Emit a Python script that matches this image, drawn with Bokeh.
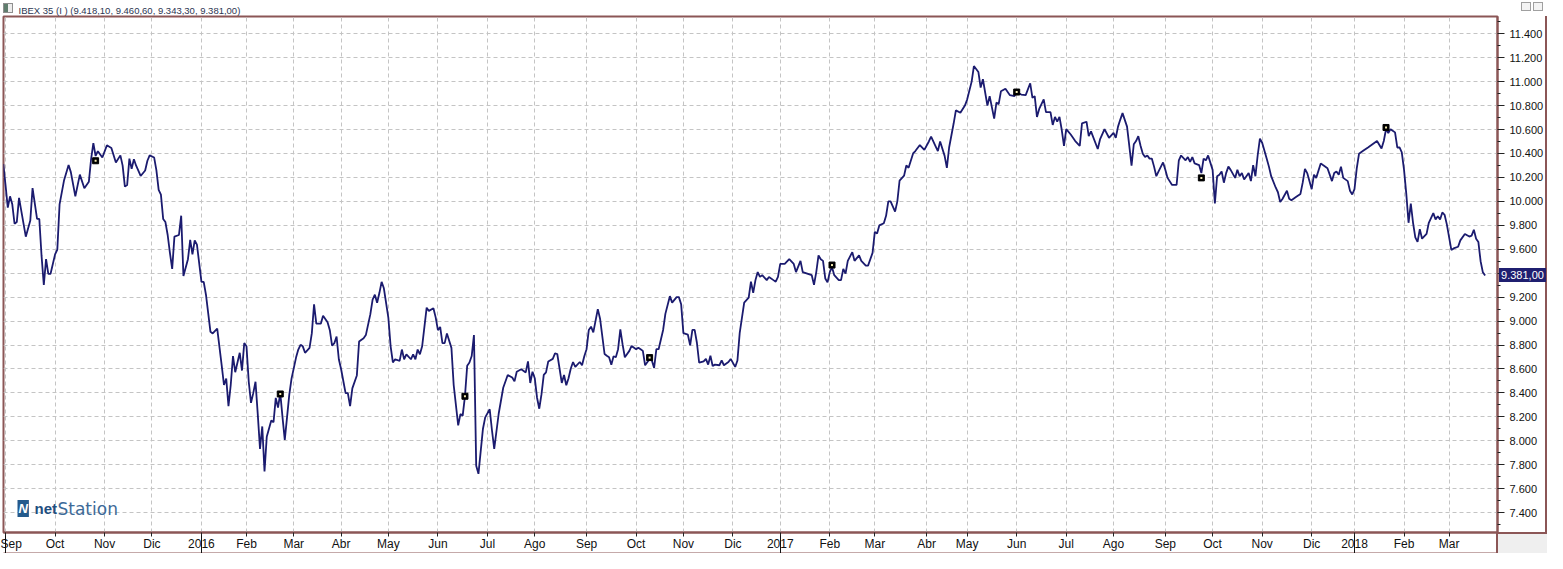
import pandas as pd
from bokeh.plotting import figure
from bokeh.layouts import column
from bokeh.models import FixedTicker, Range1d, Label, LinearAxis, ColumnDataSource, Div
from bokeh.embed import file_html
from bokeh.resources import INLINE

# ---------------- data ----------------
title_text = "IBEX 35 (I ) (9.418,10, 9.460,60, 9.343,30, 9.381,00)"
last_label = "9.381,00"
last_close = 9381

# trading-session number counted from 1 Sep 2015 (session 0)
session = [
    -1, 0, 1, 2, 3, 4, 5, 6, 7, 9, 11, 12, 14, 15, 16, 17, 18, 19, 20, 22, 23, 24, 26, 28, 29, 31, 33, 35, 37, 38, 39,
    40, 41, 43, 45, 47, 49, 51, 52, 53, 54, 55, 56, 57, 58, 60, 62, 63, 64, 66, 67, 68, 69, 70, 71, 72, 73, 74, 75,
    77, 78, 79, 81, 82, 83, 84, 85, 87, 88, 89, 91, 92, 94, 96, 97, 98, 99, 100, 101, 102, 104, 105, 106, 107, 108,
    109, 110, 111, 112, 113, 114, 115, 116, 118, 119, 120, 121, 122, 123, 124, 125, 126, 127, 129, 130, 131, 132,
    133, 135, 136, 137, 138, 140, 141, 143, 144, 145, 146, 147, 148, 149, 151, 152, 153, 154, 156, 157, 159, 160,
    162, 163, 164, 165, 166, 167, 168, 170, 171, 172, 173, 175, 176, 177, 178, 180, 181, 182, 183, 184, 185, 187,
    188, 190, 191, 192, 193, 194, 195, 196, 198, 199, 201, 202, 203, 204, 205, 206, 207, 208, 209, 210, 212, 213,
    215, 216, 217, 219, 221, 223, 225, 226, 227, 229, 231, 232, 233, 234, 235, 236, 237, 238, 239, 240, 241, 243,
    244, 245, 246, 247, 248, 249, 250, 251, 252, 253, 255, 256, 257, 258, 259, 260, 261, 263, 264, 266, 267, 268,
    269, 270, 271, 272, 273, 274, 275, 277, 278, 280, 281, 282, 283, 284, 286, 287, 288, 289, 290, 292, 293, 295,
    296, 298, 299, 300, 301, 303, 304, 305, 306, 307, 308, 310, 311, 312, 313, 314, 315, 317, 318, 319, 321, 322,
    324, 325, 326, 328, 330, 331, 332, 333, 334, 335, 336, 338, 339, 341, 342, 343, 344, 346, 348, 350, 351, 353,
    354, 356, 358, 359, 360, 361, 362, 363, 364, 365, 366, 367, 368, 370, 371, 372, 373, 374, 376, 377, 379, 380,
    382, 383, 385, 386, 387, 388, 390, 391, 392, 393, 395, 396, 397, 399, 400, 401, 403, 404, 406, 408, 410, 411,
    413, 414, 415, 417, 418, 419, 421, 422, 424, 426, 427, 429, 430, 432, 433, 434, 436, 437, 439, 440, 441, 442,
    444, 446, 448, 449, 451, 453, 455, 456, 457, 458, 459, 461, 462, 464, 465, 466, 467, 468, 469, 470, 471, 473,
    475, 477, 478, 480, 481, 482, 485, 486, 488, 490, 492, 493, 494, 495, 496, 498, 499, 500, 501, 502, 503, 504,
    505, 506, 507, 508, 509, 510, 511, 512, 514, 515, 516, 518, 520, 521, 522, 524, 525, 526, 527, 528, 530, 531,
    532, 533, 534, 536, 537, 538, 539, 540, 541, 542, 543, 544, 546, 547, 548, 549, 550, 552, 553, 554, 555, 556,
    557, 558, 560, 561, 562, 564, 565, 566, 567, 569, 570, 571, 573, 575, 576, 577, 578, 580, 581, 582, 584, 585,
    587, 588, 589, 590, 591, 592, 593, 594, 596, 597, 598, 599, 600, 601, 603, 605, 607, 609, 611, 612, 613, 614,
    615, 617, 618, 619, 620, 621, 622, 623, 624, 625, 626, 627, 628, 629, 631, 632, 634, 635, 636, 637, 638, 639,
    640, 642, 643, 645, 646, 648, 650, 651, 652, 653, 654, 655, 656, 657,
]
close = [
    10312, 10136, 9948, 10042, 9975, 9813, 9827, 10029, 9921, 9705, 9840, 10110, 9853, 9853, 9544, 9301, 9517, 9395,
    9395, 9557, 9597, 9975, 10177, 10304, 10244, 10042, 10223, 10110, 10164, 10352, 10487,
    10379, 10419, 10366, 10468, 10446, 10325, 10384, 10298, 10123, 10136, 10357, 10271, 10352, 10298, 10212, 10258,
    10339, 10384, 10366, 10258, 10096, 10056, 9853, 9827, 9719, 9570, 9436, 9705,
    9719, 9880, 9376, 9517, 9678, 9557, 9673, 9638, 9328, 9328, 9220, 8910, 8897, 8937, 8627, 8466, 8519, 8290, 8466,
    8708, 8573, 8735, 8587, 8816, 8789, 8493,
    8317, 8398, 8493, 8223, 7932, 8120, 7743, 8034, 8169, 8155, 8358, 8277, 8398, 8196, 8007, 8196, 8385, 8519, 8695,
    8762, 8802, 8789,
    8735, 8776, 8897, 9139, 8978, 8978, 9045, 8991, 8924, 8794, 8815, 8870, 8681, 8600, 8398, 8398, 8290, 8438, 8546,
    8829, 8856, 8883,
    9058, 9180, 9220, 9153, 9234, 9328, 9274, 9026, 8789, 8654, 8681, 8668, 8762, 8681, 8722, 8681, 8722, 8681, 8762,
    8722, 8789, 9112,
    9085, 9107, 9031, 8924, 8951, 8816, 8816, 8897, 8776, 8466, 8129, 8223, 8210, 8371, 8627, 8654, 8708, 8883, 7792,
    7724, 8101, 8196,
    8263, 8088, 7932, 8228, 8443, 8550, 8529, 8496, 8577, 8598, 8571, 8663, 8483, 8577, 8523, 8362, 8268, 8389, 8550,
    8571, 8663, 8684,
    8730, 8725, 8604, 8483, 8550, 8464, 8523, 8604, 8658, 8617, 8658, 8631, 8706, 8765, 8926, 8953, 8905, 9100, 9020,
    8725, 8711, 8698,
    8636, 8706, 8698, 8765, 8931, 8805, 8698, 8751, 8792, 8765, 8778, 8765, 8751, 8631, 8684, 8671, 8609, 8765, 8765,
    8926, 9060, 9208,
    9154, 9200, 9200, 9141, 8899, 8886, 8797, 8926, 8926, 8819, 8652, 8663, 8684, 8636, 8711, 8625, 8636, 8631, 8671,
    8631, 8658, 8684,
    8617, 8671, 8899, 9154, 9195, 9329, 9235, 9342, 9409, 9369, 9383, 9342, 9369, 9342, 9329, 9369, 9477, 9477, 9517,
    9477, 9409, 9503,
    9409, 9396, 9383, 9302, 9409, 9549, 9517, 9503, 9356, 9323, 9409, 9450, 9383, 9342, 9342, 9436, 9396, 9503, 9576,
    9503, 9549, 9503,
    9463, 9463, 9570, 9745, 9732, 9799, 9817, 9879, 10000, 10000, 9914, 10000, 10174, 10215, 10300, 10280, 10400,
    10420, 10470, 10430, 10500, 10540,
    10460, 10420, 10500, 10380, 10280, 10450, 10650, 10760, 10740, 10800, 10850, 11000, 11130, 11080, 10950, 11020,
    10800, 10879, 10691, 10825, 10812, 10919,
    10940, 10887, 10879, 10914, 10892, 10887, 10986, 10865, 10879, 10705, 10772, 10852, 10745, 10745, 10638, 10705,
    10665, 10705, 10598, 10464, 10603, 10558,
    10504, 10464, 10651, 10665, 10544, 10584, 10437, 10517, 10603, 10531, 10571, 10531, 10624, 10683, 10737, 10624,
    10464, 10298, 10477, 10504, 10544, 10464,
    10397, 10370, 10383, 10357, 10357, 10290, 10210, 10250, 10325, 10263, 10196, 10137, 10137, 10343, 10383, 10343,
    10370, 10330, 10370, 10317, 10303, 10236,
    10357, 10343, 10383, 10263, 9982, 10210, 10223, 10250, 10156, 10236, 10290, 10263, 10196, 10263, 10210, 10236,
    10183, 10236, 10169, 10303, 10210, 10383,
    10523, 10490, 10357, 10290, 10210, 10116, 10076, 9995, 10020, 10089, 10022, 10009, 10036, 10062, 10156, 10271,
    10236, 10102, 10223, 10196, 10317, 10303,
    10276, 10223, 10169, 10236, 10250, 10223, 10290, 10196, 10169, 10089, 10057, 10102, 10276, 10397, 10424, 10450,
    10477, 10504, 10442, 10504, 10603, 10571,
    10603, 10576, 10450, 10450, 10410, 10263, 10062, 9821, 9982, 9821, 9700, 9661, 9768, 9688, 9728, 9821, 9902, 9848,
    9875, 9848, 9907, 9888,
    9808, 9594, 9607, 9621, 9674, 9728, 9706, 9714, 9762, 9688, 9661, 9500, 9407, 9381,
]
event_session = [40, 122, 204, 286, 367, 449, 531, 613]
event_close = [10339, 8391, 8372, 8695, 9468, 10913, 10196, 10617]

month_labels = ["Sep", "Oct", "Nov", "Dic", "2016", "Feb", "Mar", "Abr", "May", "Jun", "Jul", "Ago",
                "Sep", "Oct", "Nov", "Dic", "2017", "Feb", "Mar", "Abr", "May", "Jun", "Jul", "Ago",
                "Sep", "Oct", "Nov", "Dic", "2018", "Feb", "Mar"]
price_ticks = list(range(7400, 11401, 200))
price_minor = list(range(7300, 11501, 200))
holidays = ["2015-12-25", "2016-01-01", "2016-03-25", "2016-03-28", "2016-12-26", "2017-04-14",
            "2017-04-17", "2017-05-01", "2017-12-25", "2017-12-26", "2018-01-01", "2018-03-30"]

# ---------------- calendar -> month ticks ----------------
cal = pd.bdate_range("2015-09-01", "2018-03-31", freq="C", holidays=holidays)
per = cal.to_period("M")
month_ticks = [i for i in range(len(cal)) if i == 0 or per[i] != per[i - 1]]
year_ticks = [t for t, lab in zip(month_ticks, month_labels) if lab.isdigit()]

# ---------------- layout ----------------
W, H = 1547, 553
ML, MR, MT, MB = 3, 50, 16, 20
X0, X1 = -0.9, 662.5
Y0, Y1 = 7234, 11544
FW, FH = W - ML - MR, H - MT - MB
ppx = FW / (X1 - X0)
ppy = FH / (Y1 - Y0)
BROWN = "#8b5656"
FONT = "Liberation Sans"

p = figure(width=W, height=H, x_range=Range1d(X0, X1), y_range=Range1d(Y0, Y1),
           output_backend="svg", toolbar_location=None, y_axis_location="right",
           min_border_left=ML, min_border_right=MR, min_border_top=MT, min_border_bottom=MB,
           title=title_text)
p.background_fill_color = "white"
p.border_fill_color = "white"
p.outline_line_color = BROWN
p.outline_line_width = 2

p.title.text_font = FONT
p.title.text_font_size = "9.5px"
p.title.text_font_style = "normal"
p.title.text_color = "#2c3652"
p.title.align = "left"
p.title.offset = 15
p.title.standoff = 2

# x axis (months)
xt = FixedTicker(ticks=month_ticks)
xax = p.xaxis[0]
xax.ticker = xt
p.xgrid.ticker = xt
xax.major_label_overrides = {t: lab for t, lab in zip(month_ticks, month_labels)}
xax.major_label_text_align = "left"
xax.major_label_text_font = FONT
xax.major_label_text_font_size = "12px"
xax.major_label_text_color = "#111111"
xax.major_label_standoff = 0
xax.major_tick_out = 4
xax.major_tick_in = 0
xax.major_tick_line_color = "#222222"
xax.minor_tick_line_color = None
xax.axis_line_color = BROWN
xax.axis_line_width = 2

# second (empty) bottom axis: closes the date band and draws the year separators
sep_ticks = [month_ticks[0]] + year_ticks
xax2 = LinearAxis(ticker=FixedTicker(ticks=sep_ticks),
                  major_label_overrides={t: "" for t in sep_ticks},
                  major_label_text_font_size="1px", major_label_standoff=0,
                  major_tick_in=18, major_tick_out=0, major_tick_line_color="#111111",
                  major_tick_line_width=1, minor_tick_line_color=None,
                  axis_line_color=BROWN, axis_line_width=2)
p.add_layout(xax2, "below")

# y axis (right)
yt = FixedTicker(ticks=price_ticks, minor_ticks=price_minor)
yax = p.yaxis[0]
yax.ticker = yt
p.ygrid.ticker = yt
yax.major_label_overrides = {t: f"{t:,}".replace(",", ".") for t in price_ticks}
yax.major_label_text_font = FONT
yax.major_label_text_font_size = "11px"
yax.major_label_text_color = "#111111"
yax.major_label_standoff = 5
yax.major_tick_out = 7
yax.major_tick_in = 0
yax.minor_tick_out = 3
yax.minor_tick_in = 0
yax.major_tick_line_color = "#222222"
yax.minor_tick_line_color = "#222222"
yax.axis_line_color = BROWN
yax.axis_line_width = 2

for g in (p.xgrid, p.ygrid):
    g.grid_line_color = "#c4c4c4"
    g.grid_line_dash = "4 3"
    g.grid_line_width = 1

# price line
src = ColumnDataSource(dict(session=session, close=close))
p.line(x="session", y="close", source=src, line_color="#1b1b6f", line_width=1.8)

# event markers
p.scatter(event_session, event_close, marker="square", size=6, fill_color="black", line_color="black")
p.scatter(event_session, event_close, marker="square", size=2, fill_color="#f3eab0", line_color=None)

# logo
ly = Y0 + 24 / ppy
p.add_layout(Label(x=X0 + 14 / ppx, y=ly, text="N", text_color="white", text_font=FONT,
                   text_font_size="13px", text_font_style="bold italic", text_baseline="middle",
                   background_fill_color="#245a8c", padding=1))
p.add_layout(Label(x=X0 + 31 / ppx, y=ly, text="net", text_color="#1f4f80", text_font=FONT,
                   text_font_size="15px", text_font_style="bold", text_baseline="middle"))
p.add_layout(Label(x=X0 + 54 / ppx, y=ly, text="Station", text_color="#3d6a98", text_font="DejaVu Sans",
                   text_font_size="17px", text_baseline="middle"))


# ---------------- overlays outside the plot frame ----------------
def overlay(x, y, w, h, styles, text=""):
    """A fixed box placed over the canvas at (x, y); the flow returns to the canvas bottom."""
    x, y = int(round(x)), int(round(y))
    return Div(text=text, width=w, height=h, margin=(y - H, 0, H - y - h, x),
               styles=dict(styles, **{"box-sizing": "border-box", "overflow": "hidden"}))


fr_right, fr_bottom = ML + FW, MT + FH
right_panel = overlay(fr_right, MT, W - fr_right, FH,
                      {"border-right": f"2px solid {BROWN}", "pointer-events": "none"})
corner = overlay(fr_right - 1, fr_bottom - 1, W - fr_right + 1, H - fr_bottom + 1,
                 {"background-color": "#efefef", "border-top": f"2px solid {BROWN}",
                  "border-left": f"2px solid {BROWN}"})
icon = overlay(3, 3, 10, 10, {"border": "1px solid #8f8f8f",
                              "background": "linear-gradient(to right, #5f7d6d 45%, #ececec 45%)"})
btn1 = overlay(W - 26, 2, 10, 9, {"border": "1px solid #a0a0a0", "background-color": "#f4f4f4"})
btn2 = overlay(W - 14, 2, 10, 9, {"border": "1px solid #a0a0a0", "background-color": "#f4f4f4"})

tag_h = 14
tag_top = MT + (Y1 - last_close) * ppy - tag_h / 2
tag = overlay(fr_right + 2, tag_top, W - fr_right - 3, tag_h,
              {"background-color": "#1f1f70", "color": "white", "font-family": FONT,
               "font-size": "11px", "line-height": "14px", "text-align": "center"},
              text=last_label)

layout = column(p, right_panel, corner, icon, btn1, btn2, tag, spacing=0)
open("out.html", "w").write(file_html(layout, INLINE))
